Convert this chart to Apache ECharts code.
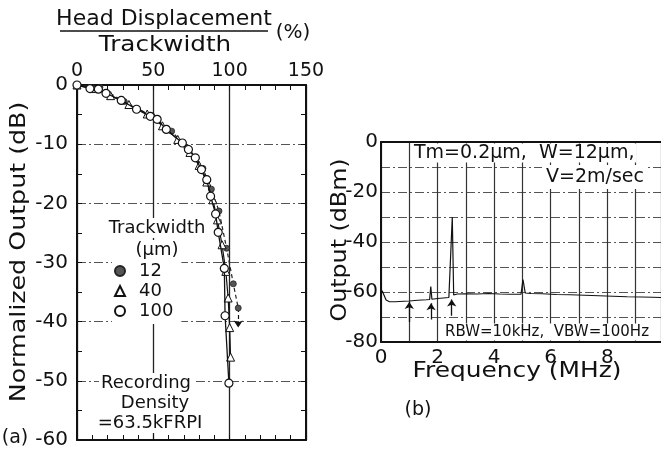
<!DOCTYPE html>
<html><head><meta charset="utf-8">
<script src="https://cdn.jsdelivr.net/npm/echarts@6/dist/echarts.min.js"></script>
<style>html,body{margin:0;padding:0;background:#fff}#c{width:661px;height:450px}</style>
</head><body><div id="c"></div>
<script>
// (a) Normalized output versus head displacement / trackwidth (%), three trackwidths
const dispTicks = [0, 50, 100, 150];
const tw12 = [[0,0],[15,-0.4],[31,-2.8],[49,-5.2],[62,-7.8],[72,-10.6],[78,-12.3],[82.5,-14.1],[88,-17.6],[93,-21.3],[98,-27.6],[102.4,-33.6],[105.6,-37.7]];
const tw40 = [[0,0],[11,-0.6],[22,-1.8],[34,-3.3],[46,-4.9],[56,-6.9],[66,-9.2],[74,-11.4],[80,-13.6],[85,-16.4],[89,-19.4],[92,-22.8],[95,-27],[97.5,-31.5],[99,-36],[100,-41],[100.6,-46]];
const tw100 = [[0,0],[8.5,-0.6],[14,-0.7],[19,-1.4],[29,-2.6],[39,-4.1],[48,-5.3],[52.5,-5.8],[58.5,-7.5],[69,-9.8],[73,-10.9],[77.5,-12.3],[81.5,-14.3],[85,-16],[87.5,-18.8],[90.8,-21.8],[92.5,-24.9],[96.5,-31],[97,-39],[99.5,-50.4]];
const tw12Arrow = [[105.6,-37.7],[105.6,-41]];

// (b) Output spectrum
const freqMHz = [0,0.04,0.1,0.18,0.3,0.5,0.8,1.0,1.3,1.6,1.72,1.76,1.8,2.0,2.2,2.4,2.47,2.52,2.57,2.7,3.0,3.4,3.8,4.2,4.6,4.95,5.02,5.1,5.3,5.7,6.2,6.7,7.2,7.7,8.2,8.7,9.2,9.6,9.9];
const outputDbm = [-61,-59.5,-60,-63.2,-63.9,-63.9,-63.7,-63.6,-63.3,-63.1,-63,-57.8,-62.9,-62.6,-62.4,-62.2,-62.1,-30,-61.2,-60.8,-60.7,-60.8,-60.6,-60.8,-60.9,-60.9,-55,-60.4,-60.6,-60.7,-61,-61.1,-61.3,-61.5,-61.7,-61.9,-62,-62.1,-62.2];
const markerFreq = [1.0, 1.77, 2.5];
const markerTip = [-64, -64.5, -63];
const markerTail = [-72, -71, -69.5];

const FONT = 'DejaVu Sans';
const INK = '#111';
const GRIDDASH = [9, 3, 2, 3];

const chart = echarts.init(document.getElementById('c'), null, {renderer: 'canvas'});

const frameAxis = (extra) => Object.assign({
  type: 'value', axisLabel: {show: false}, splitLine: {show: false},
  axisLine: {show: true, onZero: false, lineStyle: {color: INK, width: 2}},
  axisTick: {show: true, inside: true, length: 5, lineStyle: {color: INK}},
  minorTick: {show: true, length: 5, lineStyle: {color: INK}}
}, extra);

// text element; `el` carries element-level props such as rotation / scale
const txt = (text, x, y, size, style, el) => Object.assign({
  type: 'text', x, y, z: 100,
  style: Object.assign({text, fontSize: size, fontFamily: FONT, fill: INK, align: 'center', verticalAlign: 'middle'}, style || {})
}, el || {});
const boxed = {backgroundColor: '#fff', padding: [1, 2]};

const spectrum = freqMHz.map((f, i) => [f, outputDbm[i]]);
const markers = markerFreq.map((f, i) => ({coords: [[f, markerTail[i]], [f, markerTip[i]]]}));

chart.setOption({
  animation: false,
  backgroundColor: '#fff',
  grid: [
    {left: 77, top: 85, width: 229, height: 357},
    {left: 381, top: 142, width: 280, height: 200}
  ],
  xAxis: [
    frameAxis({gridIndex: 0, position: 'top', min: 0, max: 150, interval: 50,
      axisLabel: {show: true, margin: 4, fontSize: 19, fontFamily: FONT, color: INK,
        formatter: v => dispTicks.includes(v) ? String(v) : ''},
      minorTick: {show: true, splitNumber: 5, length: 5, lineStyle: {color: INK}},
      splitLine: {show: true, lineStyle: {color: '#222', width: 1.3}}}),
    frameAxis({gridIndex: 0, position: 'bottom', min: 0, max: 150, interval: 50,
      minorTick: {show: true, splitNumber: 5, length: 5, lineStyle: {color: INK}}}),
    {type: 'value', gridIndex: 1, position: 'bottom', min: 0, max: 9.9, interval: 1,
      axisLine: {show: true, onZero: false, lineStyle: {color: INK, width: 2}},
      axisTick: {show: false},
      axisLabel: {margin: 6, fontSize: 20, fontFamily: FONT, color: INK,
        formatter: v => (Math.abs(v % 2) < 1e-9 ? String(v) : ''), showMaxLabel: false},
      splitLine: {show: true, lineStyle: {color: '#333', width: 1.2}}},
    {type: 'value', gridIndex: 1, position: 'top', min: 0, max: 9.9,
      axisLine: {show: true, onZero: false, lineStyle: {color: INK, width: 2}},
      axisTick: {show: false}, axisLabel: {show: false}, splitLine: {show: false}}
  ],
  yAxis: [
    frameAxis({gridIndex: 0, position: 'left', min: -60, max: 0, interval: 10,
      axisLabel: {show: true, margin: 9, fontSize: 20, fontFamily: FONT, color: INK},
      minorTick: {show: true, splitNumber: 2, length: 5, lineStyle: {color: INK}},
      splitLine: {show: true, lineStyle: {color: '#555', width: 1, type: GRIDDASH}}}),
    frameAxis({gridIndex: 0, position: 'right', min: -60, max: 0, interval: 10,
      minorTick: {show: true, splitNumber: 2, length: 5, lineStyle: {color: INK}}}),
    {type: 'value', gridIndex: 1, position: 'left', min: -80, max: 0, interval: 10,
      axisLine: {show: true, onZero: false, lineStyle: {color: INK, width: 2}},
      axisTick: {show: false},
      axisLabel: {margin: 3, fontSize: 20, fontFamily: FONT, color: INK,
        formatter: v => (v % 20 === 0 ? String(v) : '')},
      splitLine: {show: true, lineStyle: {color: '#555', width: 1, type: GRIDDASH}}}
  ],
  legend: {
    orient: 'vertical', left: 112, top: 259, selectedMode: false,
    itemWidth: 10, itemHeight: 10, itemGap: 0, padding: [2, 8, 3, 2],
    backgroundColor: '#fff', z: 50,
    textStyle: {fontSize: 18, lineHeight: 20, fontFamily: FONT, color: INK, padding: [0, 0, 0, 9]},
    data: [{name: '12', icon: 'circle'}, {name: '40', icon: 'triangle'}, {name: '100', icon: 'circle'}]
  },
  series: [
    {name: '12', type: 'line', xAxisIndex: 0, yAxisIndex: 0, data: tw12, z: 3,
      symbol: 'circle', symbolSize: 6,
      itemStyle: {color: '#555', borderColor: '#222', borderWidth: 0.8},
      lineStyle: {color: '#222', width: 1.2, type: [4, 3]}},
    {name: '40', type: 'line', xAxisIndex: 0, yAxisIndex: 0, data: tw40, z: 4,
      symbol: 'triangle', symbolSize: 8,
      itemStyle: {color: '#fff', borderColor: '#111', borderWidth: 1},
      lineStyle: {color: '#111', width: 1.2}},
    {name: '100', type: 'line', xAxisIndex: 0, yAxisIndex: 0, data: tw100, z: 5,
      symbol: 'circle', symbolSize: 8,
      itemStyle: {color: '#fff', borderColor: '#111', borderWidth: 1.2},
      lineStyle: {color: '#111', width: 1.3}},
    {type: 'lines', coordinateSystem: 'cartesian2d', xAxisIndex: 0, yAxisIndex: 0, z: 3,
      symbol: ['none', 'arrow'], symbolSize: 7,
      lineStyle: {color: '#111', width: 1.2, type: [4, 3], opacity: 1},
      data: [{coords: tw12Arrow}]},
    {type: 'line', xAxisIndex: 2, yAxisIndex: 2, data: spectrum, showSymbol: false,
      lineStyle: {color: '#111', width: 1.2}, z: 5},
    {type: 'lines', coordinateSystem: 'cartesian2d', xAxisIndex: 2, yAxisIndex: 2, z: 5,
      symbol: ['none', 'arrow'], symbolSize: 7,
      lineStyle: {color: '#111', width: 1.3, opacity: 1},
      data: markers}
  ],
  graphic: [
    txt('Head Displacement', 164, 19, 22),
    {type: 'line', z: 100, shape: {x1: 60, y1: 31, x2: 268, y2: 31}, style: {stroke: INK, lineWidth: 1.6}},
    txt('Trackwidth', 165, 45, 22, null, {scaleX: 1.12}),
    txt('(%)', 293, 33, 20),
    txt('Normalized Output (dB)', 19, 252, 22, null, {rotation: Math.PI / 2, scaleX: 1.15}),
    txt('(a)', 15, 438, 19),
    txt('Trackwidth', 157, 228, 18, boxed),
    txt('(\u03bcm)', 157, 250, 18, boxed),
    txt('Recording', 146, 383, 18, boxed),
    txt('Density', 155, 403, 18, boxed),
    txt('=63.5kFRPI', 150, 423, 18, boxed),
    txt('Output (dBm)', 340, 240, 22, null, {rotation: Math.PI / 2, scaleX: 1.08}),
    txt('Frequency (MHz)', 517, 371, 22, null, {scaleX: 1.13}),
    txt('(b)', 418, 410, 19),
    txt('Tm=0.2\u03bcm,  W=12\u03bcm,', 412, 153, 19, {align: 'left', backgroundColor: '#fff', padding: [0, 2], lineHeight: 19}),
    txt('V=2m/sec', 648, 177, 19, {align: 'right', backgroundColor: '#fff', padding: [2, 4], lineHeight: 20}),
    txt('RBW=10kHz,  VBW=100Hz', 651, 332, 15, {align: 'right', backgroundColor: '#fff', padding: [1, 2], lineHeight: 15})
  ]
});
</script></body></html>
